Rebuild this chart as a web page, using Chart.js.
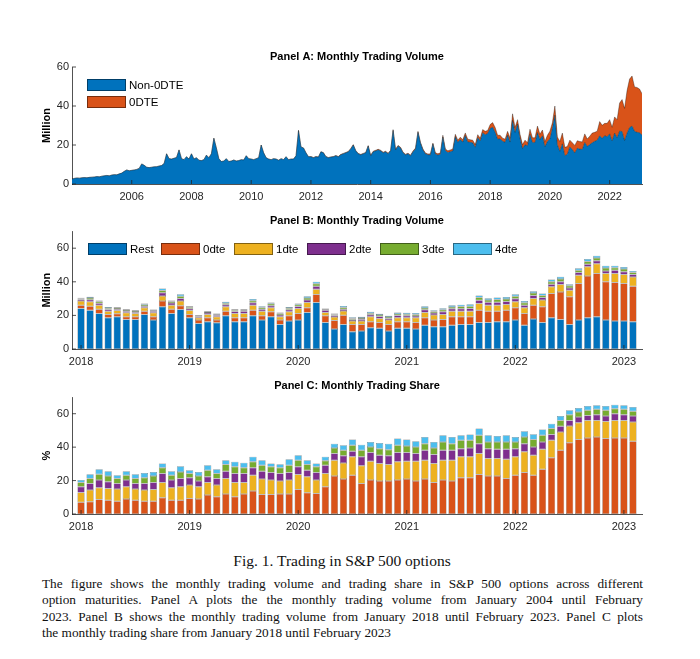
<!DOCTYPE html>
<html>
<head>
<meta charset="utf-8">
<script src="https://cdn.jsdelivr.net/npm/chart.js@4.4.0/dist/chart.umd.min.js"></script>
<style>
  body { margin: 0; background: #fff; }
  #page { position: relative; width: 700px; height: 659px; overflow: hidden; font-family: "Liberation Sans", Arial, sans-serif; }
  canvas { position: absolute; left: 0; }
  .legend { position: absolute; font-size: 11.5px; color: #000; }
  .legend .item { display: flex; align-items: center; height: 17px; }
  .legend .box { width: 39px; height: 12px; border: 0.5px solid rgba(0,0,0,.45); box-sizing: border-box; margin-right: 3px; }
  #legendA { left: 87px; top: 76px; }
  #legendB { left: 88px; top: 240px; display: flex; }
  #legendB .item { width: 73px; }
  .cap { position: absolute; font-family: "Liberation Serif", "DejaVu Serif", serif; color: #111; }
  .line { left: 42px; width: 601px; font-size: 13.3px; white-space: nowrap; text-align: justify; text-align-last: justify; }
</style>
</head>
<body>
<div id="page">
  <canvas id="chartA" width="700" height="161" style="top:45px"></canvas>
  <canvas id="chartB" width="700" height="162" style="top:209px"></canvas>
  <canvas id="chartC" width="700" height="162" style="top:374px"></canvas>
  <div id="legendA" class="legend"></div>
  <div id="legendB" class="legend"></div>

  <div class="cap" style="top:552px;left:0;width:684px;text-align:center;font-size:15.5px">Fig. 1. Trading in S&amp;P 500 options</div>
  <div class="cap line" style="top:576px">The figure shows the monthly trading volume and trading share in S&amp;P 500 options across different</div>
  <div class="cap line" style="top:592px">option maturities. Panel A plots the the monthly trading volume from January 2004 until February</div>
  <div class="cap line" style="top:609px">2023. Panel B shows the monthly trading volume from January 2018 until February 2023. Panel C plots</div>
  <div class="cap line" style="top:625px;text-align:left;text-align-last:left">the monthly trading share from January 2018 until February 2023</div>
</div>

<script>
  // colours (matlab defaults)
  const blue = '#0072BD', orange = '#D95319', yellow = '#EDB120',
        purple = '#7E2F8E', green = '#77AC30', lightBlue = '#4DBEEE';
  const edge = 'rgba(0,0,0,0.55)';

  // Panel A: monthly volume, Jan 2004 - Feb 2023 (million)
  const startA = 2004;
  const yearTicksA = [2006, 2008, 2010, 2012, 2014, 2016, 2018, 2020, 2022];
  const nonZeroDte = [
    2.5, 2.9, 3.1, 3.0, 3.2, 3.3, 3.2, 3.4, 3.5, 3.6, 3.8, 3.7,
    4.0, 4.2, 4.4, 4.2, 4.6, 4.8, 4.7, 5.2, 5.6, 6.5, 7.2, 6.8,
    7.0, 7.2, 7.5, 8.0, 10.3, 9.6, 8.6, 8.4, 8.6, 8.8, 8.9, 9.2,
    9.5, 10.5, 15.5, 13.0, 12.8, 13.2, 13.6, 17.5, 13.0, 12.5, 14.0, 12.8,
    15.5, 12.8, 13.5, 12.2, 12.0, 12.5, 14.8, 13.5, 15.5, 23.5, 18.5, 13.0,
    11.5, 11.8, 13.0, 11.5, 11.8, 12.3, 11.8, 12.0, 12.5, 12.3, 14.5, 13.0,
    12.8, 12.5, 13.0, 13.5, 20.0, 16.0, 13.5, 12.8, 12.5, 13.0, 12.8, 12.2,
    13.0, 12.5, 14.0, 12.5, 12.8, 12.8, 14.5, 27.5, 19.0, 18.5, 16.0, 14.0,
    14.0, 13.5, 14.0, 13.8, 16.5, 16.0, 14.0, 13.5, 13.8, 14.0, 14.5, 14.0,
    15.0, 15.5, 16.0, 16.5, 18.0, 20.0, 17.0, 15.5, 15.0, 15.5, 16.0, 19.5,
    14.5, 16.5, 17.0, 17.5, 17.0, 16.0, 16.5, 15.5, 17.0, 27.5, 17.5, 19.5,
    18.5, 16.0, 15.0, 15.5, 14.5, 16.5, 18.0, 26.5, 21.0, 17.5, 15.5, 15.0,
    15.0, 20.5, 15.4, 14.9, 15.3, 24.1, 17.2, 16.2, 16.6, 17.0, 24.3, 21.4,
    22.8, 21.5, 24.9, 21.6, 21.4, 21.1, 18.9, 23.8, 22.1, 26.3, 25.3, 25.9,
    28.5, 29.1, 26.5, 23.0, 23.2, 21.9, 21.4, 25.1, 21.5, 32.6, 26.5, 30.8,
    23.5, 18.2, 20.1, 19.6, 25.4, 21.3, 21.3, 26.4, 22.9, 24.7, 19.2, 21.8,
    23.1, 28.7, 35.3, 20.1, 16.8, 20.6, 14.5, 15.3, 19.0, 17.7, 15.9, 18.3,
    17.9, 17.7, 21.3, 19.2, 20.2, 21.1, 21.9, 22.5, 24.7, 23.4, 24.8, 24.2,
    25.7, 22.1, 26.1, 23.7, 27.1, 26.9, 22.3, 26.1, 28.9, 29.7, 27.0, 26.5,
    26.3, 25.1
  ];
  const zeroDte = [
    0, 0, 0, 0, 0, 0, 0, 0, 0, 0, 0, 0,
    0, 0, 0, 0, 0, 0, 0, 0, 0, 0, 0, 0,
    0, 0, 0, 0, 0, 0, 0, 0, 0, 0, 0, 0,
    0, 0, 0, 0, 0, 0, 0, 0, 0, 0, 0, 0,
    0, 0, 0, 0, 0, 0, 0, 0, 0, 0, 0, 0,
    0, 0, 0, 0, 0, 0, 0, 0, 0, 0, 0, 0,
    0, 0, 0, 0, 0, 0, 0, 0, 0, 0, 0, 0,
    0, 0, 0, 0, 0, 0, 0, 0, 0, 0, 0, 0,
    0.1, 0.1, 0.1, 0.1, 0.1, 0.1, 0.1, 0.1, 0.1, 0.1, 0.1, 0.1,
    0.2, 0.2, 0.2, 0.2, 0.2, 0.2, 0.2, 0.2, 0.2, 0.2, 0.2, 0.2,
    0.3, 0.3, 0.3, 0.3, 0.3, 0.3, 0.3, 0.3, 0.3, 0.4, 0.3, 0.3,
    0.3, 0.3, 0.3, 0.3, 0.3, 0.4, 0.4, 0.5, 0.4, 0.4, 0.4, 0.4,
    0.5, 0.5, 0.6, 0.6, 0.7, 0.9, 0.8, 0.8, 0.9, 1.0, 1.2, 1.1,
    1.2, 1.2, 1.3, 1.4, 1.3, 1.4, 1.3, 1.5, 1.4, 1.6, 1.7, 1.6,
    2.0, 2.4, 2.5, 2.0, 1.8, 1.6, 1.6, 1.9, 2.0, 3.4, 2.5, 2.2,
    2.0, 2.0, 2.4, 1.6, 2.7, 2.4, 2.4, 3.3, 2.6, 3.0, 2.6, 3.2,
    4.0, 2.7, 4.7, 4.0, 5.0, 5.5, 4.3, 3.9, 3.5, 3.5, 3.9, 3.9,
    3.9, 3.9, 4.4, 3.9, 4.3, 5.0, 4.6, 4.6, 7.3, 6.7, 6.3, 6.9,
    7.3, 7.0, 8.3, 9.3, 14.4, 16.4, 16.5, 21.8, 24.9, 25.7, 22.8, 23.0,
    22.4, 21.2
  ];

  // Panel B: monthly volume by maturity, Jan 2018 - Feb 2023 (million)
  const startB = 2018;
  const yearTicksB = [2018, 2019, 2020, 2021, 2022, 2023];
  const volRest = [
    24.1, 23.1, 21.2, 18.6, 19.2, 17.6, 17.6, 20.6, 17.2, 25.1, 21.2, 23.5,
    18.6, 15.2, 16.2, 15.6, 19.8, 16.2, 16.2, 19.8, 17.2, 19.2, 14.6, 16.6,
    17.2, 21.8, 27.7, 15.8, 11.9, 14.6, 10.3, 10.7, 12.7, 12.3, 10.7, 12.3,
    12.3, 11.9, 14.2, 13.3, 13.3, 14.2, 14.6, 14.6, 15.8, 15.8, 16.2, 16.2,
    17.2, 14.2, 17.8, 15.8, 18.6, 17.6, 14.6, 17.2, 18.6, 19.2, 17.2, 16.6,
    16.6, 16.2
  ];
  const vol0 = [
    2.0, 2.4, 2.5, 2.0, 1.8, 1.6, 1.6, 1.9, 2.0, 3.4, 2.5, 2.2,
    2.0, 2.0, 2.4, 1.6, 2.7, 2.4, 2.4, 3.3, 2.6, 3.0, 2.6, 3.2,
    4.0, 2.7, 4.7, 4.0, 5.0, 5.5, 4.3, 3.9, 3.5, 3.5, 3.9, 3.9,
    3.9, 3.9, 4.4, 3.9, 4.3, 5.0, 4.6, 4.6, 7.3, 6.7, 6.3, 6.9,
    7.3, 7.0, 8.3, 9.3, 14.4, 16.4, 16.5, 21.8, 24.9, 25.7, 22.8, 23.0,
    22.4, 21.2
  ];
  const vol1 = [
    2.4, 2.6, 2.4, 1.9, 1.9, 2.4, 2.0, 2.0, 2.4, 3.1, 2.4, 2.8,
    2.3, 1.4, 2.0, 2.0, 2.6, 2.6, 2.6, 3.0, 2.7, 2.3, 2.0, 2.4,
    2.9, 3.2, 3.2, 2.0, 2.1, 2.5, 2.1, 2.0, 3.0, 2.4, 2.6, 2.4,
    2.4, 2.8, 3.2, 3.0, 3.0, 3.3, 3.3, 3.3, 4.0, 3.6, 3.6, 3.4,
    3.6, 3.3, 4.0, 4.0, 4.0, 4.4, 3.9, 4.9, 5.4, 5.9, 4.9, 5.3,
    5.3, 5.5
  ];
  const vol2 = [
    1.0, 1.2, 1.2, 1.0, 0.8, 0.9, 0.7, 1.0, 0.8, 1.9, 1.3, 1.6,
    1.1, 0.7, 0.8, 0.9, 1.2, 1.1, 1.2, 1.4, 1.2, 1.3, 1.0, 1.1,
    1.2, 1.4, 1.8, 1.2, 0.9, 1.1, 0.7, 1.1, 1.2, 1.1, 1.0, 1.3,
    1.2, 1.1, 1.5, 1.2, 1.5, 1.5, 1.4, 1.6, 1.9, 1.8, 1.8, 1.8,
    1.8, 1.6, 1.7, 1.5, 1.5, 1.6, 1.3, 1.6, 1.6, 1.8, 1.6, 2.0,
    1.7, 1.5
  ];
  const vol3 = [
    0.6, 1.0, 0.9, 0.8, 0.7, 0.7, 0.7, 0.9, 0.6, 1.3, 0.8, 1.3,
    0.8, 0.5, 0.6, 0.6, 1.0, 0.8, 0.7, 1.2, 1.0, 1.1, 0.9, 0.9,
    1.0, 1.2, 1.4, 0.6, 0.7, 1.0, 0.8, 0.8, 0.9, 0.9, 0.8, 1.0,
    0.9, 0.9, 1.1, 0.9, 1.2, 1.0, 1.4, 1.4, 1.6, 1.2, 1.5, 1.4,
    1.5, 1.4, 1.5, 1.3, 1.6, 1.7, 1.3, 1.4, 1.6, 1.6, 1.7, 1.5,
    1.6, 1.1
  ];
  const vol4 = [
    0.4, 0.8, 0.7, 0.7, 0.5, 0.5, 0.5, 0.7, 0.5, 1.2, 0.7, 1.2,
    0.7, 0.4, 0.5, 0.5, 0.8, 0.6, 0.6, 1.0, 0.8, 0.8, 0.7, 0.8,
    0.8, 1.1, 1.2, 0.5, 0.6, 0.9, 0.7, 0.7, 0.8, 0.8, 0.8, 0.9,
    0.9, 0.8, 1.1, 0.8, 1.0, 1.0, 1.0, 1.1, 1.3, 1.1, 1.3, 1.3,
    1.2, 1.1, 1.1, 1.1, 1.3, 1.3, 1.0, 1.1, 1.4, 1.3, 1.3, 1.2,
    1.2, 1.0
  ];

  // Panel C: trading share by maturity (%)
  const share0 = [
    7.0, 7.4, 8.7, 8.3, 7.7, 8.9, 8.3, 7.7, 7.7, 9.7, 8.3, 8.3,
    9.3, 8.9, 11.3, 10.3, 11.9, 10.3, 11.9, 13.7, 11.7, 11.7, 11.9, 11.9,
    14.7, 12.7, 12.3, 16.3, 22.7, 21.0, 23.2, 18.3, 20.3, 19.7, 19.7, 20.3,
    20.9, 19.7, 20.9, 18.9, 20.3, 19.7, 21.7, 21.7, 23.6, 22.7, 22.7, 21.3,
    23.2, 24.8, 23.2, 26.8, 33.6, 38.2, 42.7, 44.5, 45.5, 46.1, 45.1, 45.5,
    45.5, 43.5
  ];
  const share1 = [
    5.9, 6.9, 7.0, 7.0, 7.2, 7.4, 6.6, 6.6, 7.0, 9.2, 7.4, 8.0,
    8.0, 7.4, 7.6, 7.0, 9.4, 8.6, 7.0, 9.5, 9.2, 8.6, 7.8, 8.4,
    8.9, 9.6, 8.0, 7.9, 9.5, 9.5, 11.0, 10.5, 11.3, 10.5, 9.9, 10.9,
    10.7, 11.9, 11.3, 11.3, 11.9, 12.5, 12.5, 12.5, 12.6, 10.5, 10.5, 11.5,
    11.0, 12.4, 12.0, 11.9, 10.5, 10.9, 10.0, 10.1, 10.5, 9.9, 10.3, 10.5,
    10.5, 11.5
  ];
  const share2 = [
    3.4, 4.0, 4.6, 4.0, 3.4, 4.0, 3.4, 4.0, 4.2, 5.3, 4.6, 5.0,
    4.4, 3.4, 3.4, 4.0, 4.3, 5.3, 5.3, 4.4, 4.7, 4.5, 4.5, 4.5,
    4.6, 3.9, 4.5, 5.0, 4.0, 4.3, 3.4, 5.4, 5.2, 5.0, 5.2, 5.6,
    5.2, 4.6, 6.0, 5.4, 6.0, 6.0, 4.9, 5.3, 5.9, 5.9, 5.5, 5.9,
    4.9, 4.9, 4.9, 4.4, 3.4, 3.4, 3.3, 3.4, 3.0, 3.4, 3.2, 4.0,
    3.4, 3.6
  ];
  const share3 = [
    2.6, 3.0, 3.5, 3.4, 3.0, 2.9, 3.0, 3.4, 3.8, 3.4, 2.9, 3.9,
    2.5, 3.0, 3.9, 2.9, 4.0, 4.0, 3.4, 3.6, 3.6, 3.4, 3.4, 4.4,
    4.0, 3.4, 3.4, 2.6, 3.3, 3.4, 3.5, 4.0, 3.3, 3.9, 3.7, 4.3,
    3.9, 3.9, 3.9, 3.9, 4.9, 3.9, 5.0, 4.6, 5.0, 4.0, 4.4, 4.4,
    4.0, 4.0, 4.4, 4.0, 3.6, 3.5, 3.4, 3.0, 3.0, 3.2, 3.4, 3.0,
    3.2, 2.8
  ];
  const share4 = [
    1.4, 2.5, 3.0, 2.9, 1.9, 2.4, 2.5, 2.9, 2.5, 2.6, 2.4, 3.4,
    2.0, 2.5, 3.0, 2.6, 2.6, 3.0, 3.0, 3.0, 3.0, 2.0, 2.2, 3.6,
    3.0, 2.6, 2.0, 2.4, 2.6, 3.0, 3.4, 3.3, 3.0, 3.4, 3.6, 4.0,
    3.8, 3.4, 4.0, 3.6, 4.0, 4.0, 3.0, 3.4, 4.0, 4.0, 3.6, 4.0,
    3.0, 3.4, 3.2, 3.4, 2.9, 2.6, 2.6, 2.4, 2.6, 2.4, 2.6, 2.4,
    2.4, 2.6
  ];

  Chart.defaults.font.family = '"Liberation Sans", Arial, sans-serif';
  Chart.defaults.font.size = 11;
  Chart.defaults.color = '#262626';

  // monthly series -> {x: decimal year, y}
  const monthly = (arr, start) => arr.map((v, i) => ({ x: start + i / 12, y: v }));

  // small tick marks pointing into the plot, like matlab
  const inwardTicks = {
    id: 'inwardTicks',
    afterDraw(chart) {
      const { ctx, chartArea, scales: { x, y } } = chart;
      ctx.save();
      ctx.strokeStyle = '#262626';
      ctx.lineWidth = 0.8;
      ctx.beginPath();
      x.ticks.forEach(t => {
        const px = x.getPixelForValue(t.value);
        ctx.moveTo(px, chartArea.bottom);
        ctx.lineTo(px, chartArea.bottom - 4);
      });
      y.ticks.forEach(t => {
        const py = y.getPixelForValue(t.value);
        ctx.moveTo(chartArea.left, py);
        ctx.lineTo(chartArea.left + 4, py);
      });
      ctx.stroke();
      ctx.restore();
    }
  };

  function panelOptions(title, yTitle, yMax, xMin, xMax, years, titleBottom) {
    return {
      animation: false,
      responsive: false,
      layout: { padding: { left: 30, right: 58, top: 0, bottom: 1 } },
      plugins: {
        legend: { display: false },
        tooltip: { enabled: false },
        title: {
          display: true, text: title, color: '#000', fullSize: false,
          font: { size: 11, weight: 'bold' },
          padding: { top: 5.4, bottom: titleBottom }
        }
      },
      scales: {
        x: {
          type: 'linear', min: xMin, max: xMax, stacked: true, offset: false,
          grid: { display: false, drawTicks: false, offset: false },
          border: { display: true, color: '#262626', width: 0.8 },
          afterBuildTicks: s => { s.ticks = years.map(v => ({ value: v })); },
          afterFit: s => { s.height = 21; },
          ticks: { padding: 6, maxRotation: 0, callback: v => String(v) }
        },
        y: {
          min: 0, max: yMax, stacked: true,
          grid: { display: false, drawTicks: false },
          border: { display: true, color: '#262626', width: 0.8 },
          afterBuildTicks: s => { s.ticks = [0, 20, 40, 60].map(v => ({ value: v })); },
          afterFit: s => { s.width = 42; },
          ticks: { padding: 3 },
          title: { display: true, text: yTitle, color: '#000', font: { size: 11, weight: 'bold' }, padding: { top: 10, bottom: 0 } }
        }
      }
    };
  }

  const areaStyle = { pointRadius: 0, borderWidth: 0.6, borderColor: edge, tension: 0 };
  const chartA = new Chart(document.getElementById('chartA'), {
    type: 'line',
    data: {
      datasets: [
        { label: 'Non-0DTE', data: monthly(nonZeroDte, startA), backgroundColor: blue, fill: 'origin', ...areaStyle },
        { label: '0DTE', data: monthly(zeroDte, startA), backgroundColor: orange, fill: '-1', ...areaStyle }
      ]
    },
    options: panelOptions('Panel A: Monthly Trading Volume', 'Million', 60,
      startA, startA + (nonZeroDte.length - 1) / 12, yearTicksA, 3.4),
    plugins: [inwardTicks]
  });

  const barStyle = { borderWidth: 0.5, borderColor: edge, borderSkipped: false, barPercentage: 0.8, categoryPercentage: 1 };
  const endB = startB + volRest.length / 12;
  const chartB = new Chart(document.getElementById('chartB'), {
    type: 'bar',
    data: {
      datasets: [
        { label: 'Rest', data: monthly(volRest, startB), backgroundColor: blue, ...barStyle },
        { label: '0dte', data: monthly(vol0, startB), backgroundColor: orange, ...barStyle },
        { label: '1dte', data: monthly(vol1, startB), backgroundColor: yellow, ...barStyle },
        { label: '2dte', data: monthly(vol2, startB), backgroundColor: purple, ...barStyle },
        { label: '3dte', data: monthly(vol3, startB), backgroundColor: green, ...barStyle },
        { label: '4dte', data: monthly(vol4, startB), backgroundColor: lightBlue, ...barStyle }
      ]
    },
    options: panelOptions('Panel B: Monthly Trading Volume', 'Million', 70,
      startB - 1 / 12, endB, yearTicksB, 3.8),
    plugins: [inwardTicks]
  });

  const chartC = new Chart(document.getElementById('chartC'), {
    type: 'bar',
    data: {
      datasets: [
        { label: '0dte', data: monthly(share0, startB), backgroundColor: orange, ...barStyle },
        { label: '1dte', data: monthly(share1, startB), backgroundColor: yellow, ...barStyle },
        { label: '2dte', data: monthly(share2, startB), backgroundColor: purple, ...barStyle },
        { label: '3dte', data: monthly(share3, startB), backgroundColor: green, ...barStyle },
        { label: '4dte', data: monthly(share4, startB), backgroundColor: lightBlue, ...barStyle }
      ]
    },
    options: panelOptions('Panel C: Monthly Trading Share', '%', 70,
      startB - 1 / 12, endB, yearTicksB, 4.4),
    plugins: [inwardTicks]
  });

  // legends placed inside the plot areas, built from the chart datasets
  function htmlLegend(chart, el) {
    chart.data.datasets.forEach(ds => {
      const item = document.createElement('div');
      item.className = 'item';
      const box = document.createElement('span');
      box.className = 'box';
      box.style.background = ds.backgroundColor;
      const txt = document.createElement('span');
      txt.textContent = ds.label;
      item.append(box, txt);
      el.append(item);
    });
  }
  htmlLegend(chartA, document.getElementById('legendA'));
  htmlLegend(chartB, document.getElementById('legendB'));
</script>
</body>
</html>
